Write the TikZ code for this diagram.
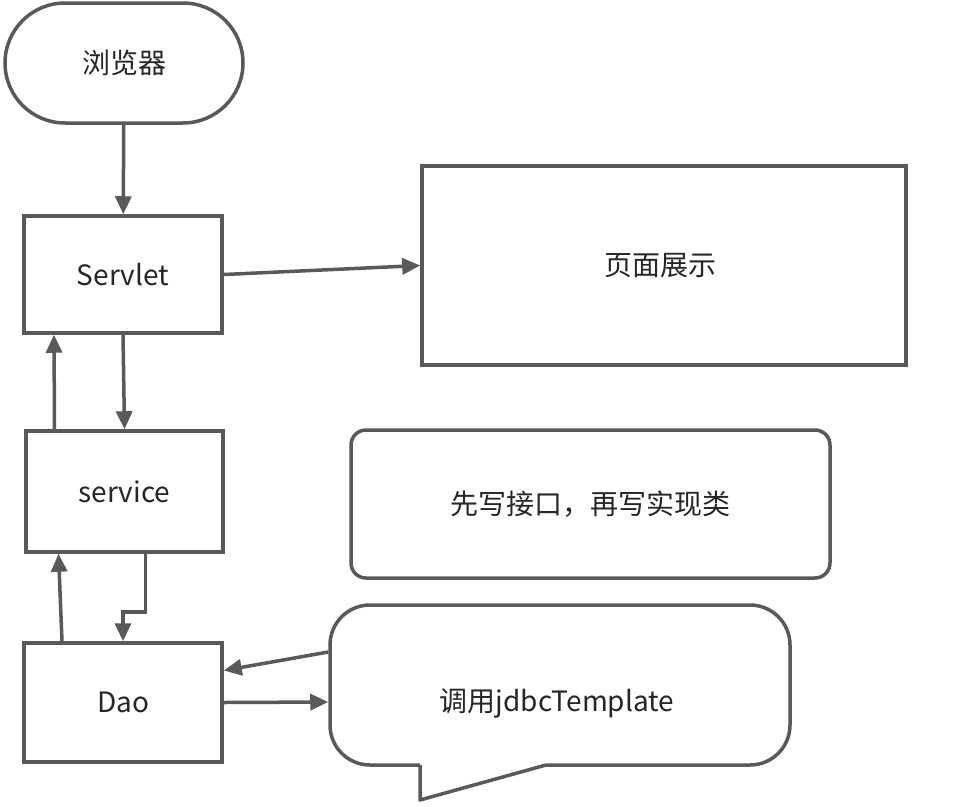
\documentclass[tikz,border=0pt]{standalone}
\usepackage{fontspec}
\setmainfont{Noto Sans CJK SC}
\usetikzlibrary{arrows.meta, positioning}
\definecolor{ln}{HTML}{595959}
\definecolor{tx}{HTML}{262626}
\begin{document}
\begin{tikzpicture} [x=1pt, y=-1pt, line width=3.5pt,
    box/.style={draw=ln, rectangle, text=tx, font=\fontsize{28}{33}\selectfont},
    arr/.style={-{Triangle[length=18pt, width=16pt]}, draw=ln}]

\useasboundingbox [fill=white] (0,0) rectangle (968,806);

\node (browser) [box, rounded corners=60pt, minimum width=238, minimum height=120] at (124,63) {浏览器};
\node (servlet) [box, minimum width=198, minimum height=117] at (123,274.5) {Servlet};
\node (page) [box, minimum width=484, minimum height=199] at (664,265.5) {页面展示\hspace*{8pt}};
\node (service) [box, minimum width=197, minimum height=121] at (124.5,491.5) {service};
\node (note) [box, rounded corners=15pt, minimum width=479, minimum height=148] at (590.5,504) {先写接口，再写实现类};
\node (dao) [box, minimum width=198, minimum height=119] at (123,702.5) {Dao};
\node (bubble) [rectangle, minimum width=460, minimum height=160] at (560,685) {};
\node (jdbc) [box, draw=none] at (557,703) {调用jdbcTemplate};

% speech bubble outline
\draw [ln, rounded corners=40pt] (546,765) -- (790,765) -- (790,605) -- (330,605) -- (330,765) -- (420,765);
\draw [ln, line join=round] (420,765) -- (420,800) -- (546,765);

\path [every edge/.style={arr}]
    (browser) edge (servlet)
    (servlet.east) edge (page.west)
    (servlet.south) edge (service.north)
    ([xshift=-70pt]service.north) edge ([xshift=-69pt]servlet.south)
    ([xshift=-61pt]dao.north) edge ([xshift=-66pt]service.south)
    ([yshift=33pt]bubble.west) edge ([yshift=32pt]dao.east)
    (dao.east) edge ([yshift=-17pt]bubble.west);
\draw [arr] ([xshift=21pt]service.south) -- ++(0,58) -| (dao.north);
\end{tikzpicture}
\end{document}
